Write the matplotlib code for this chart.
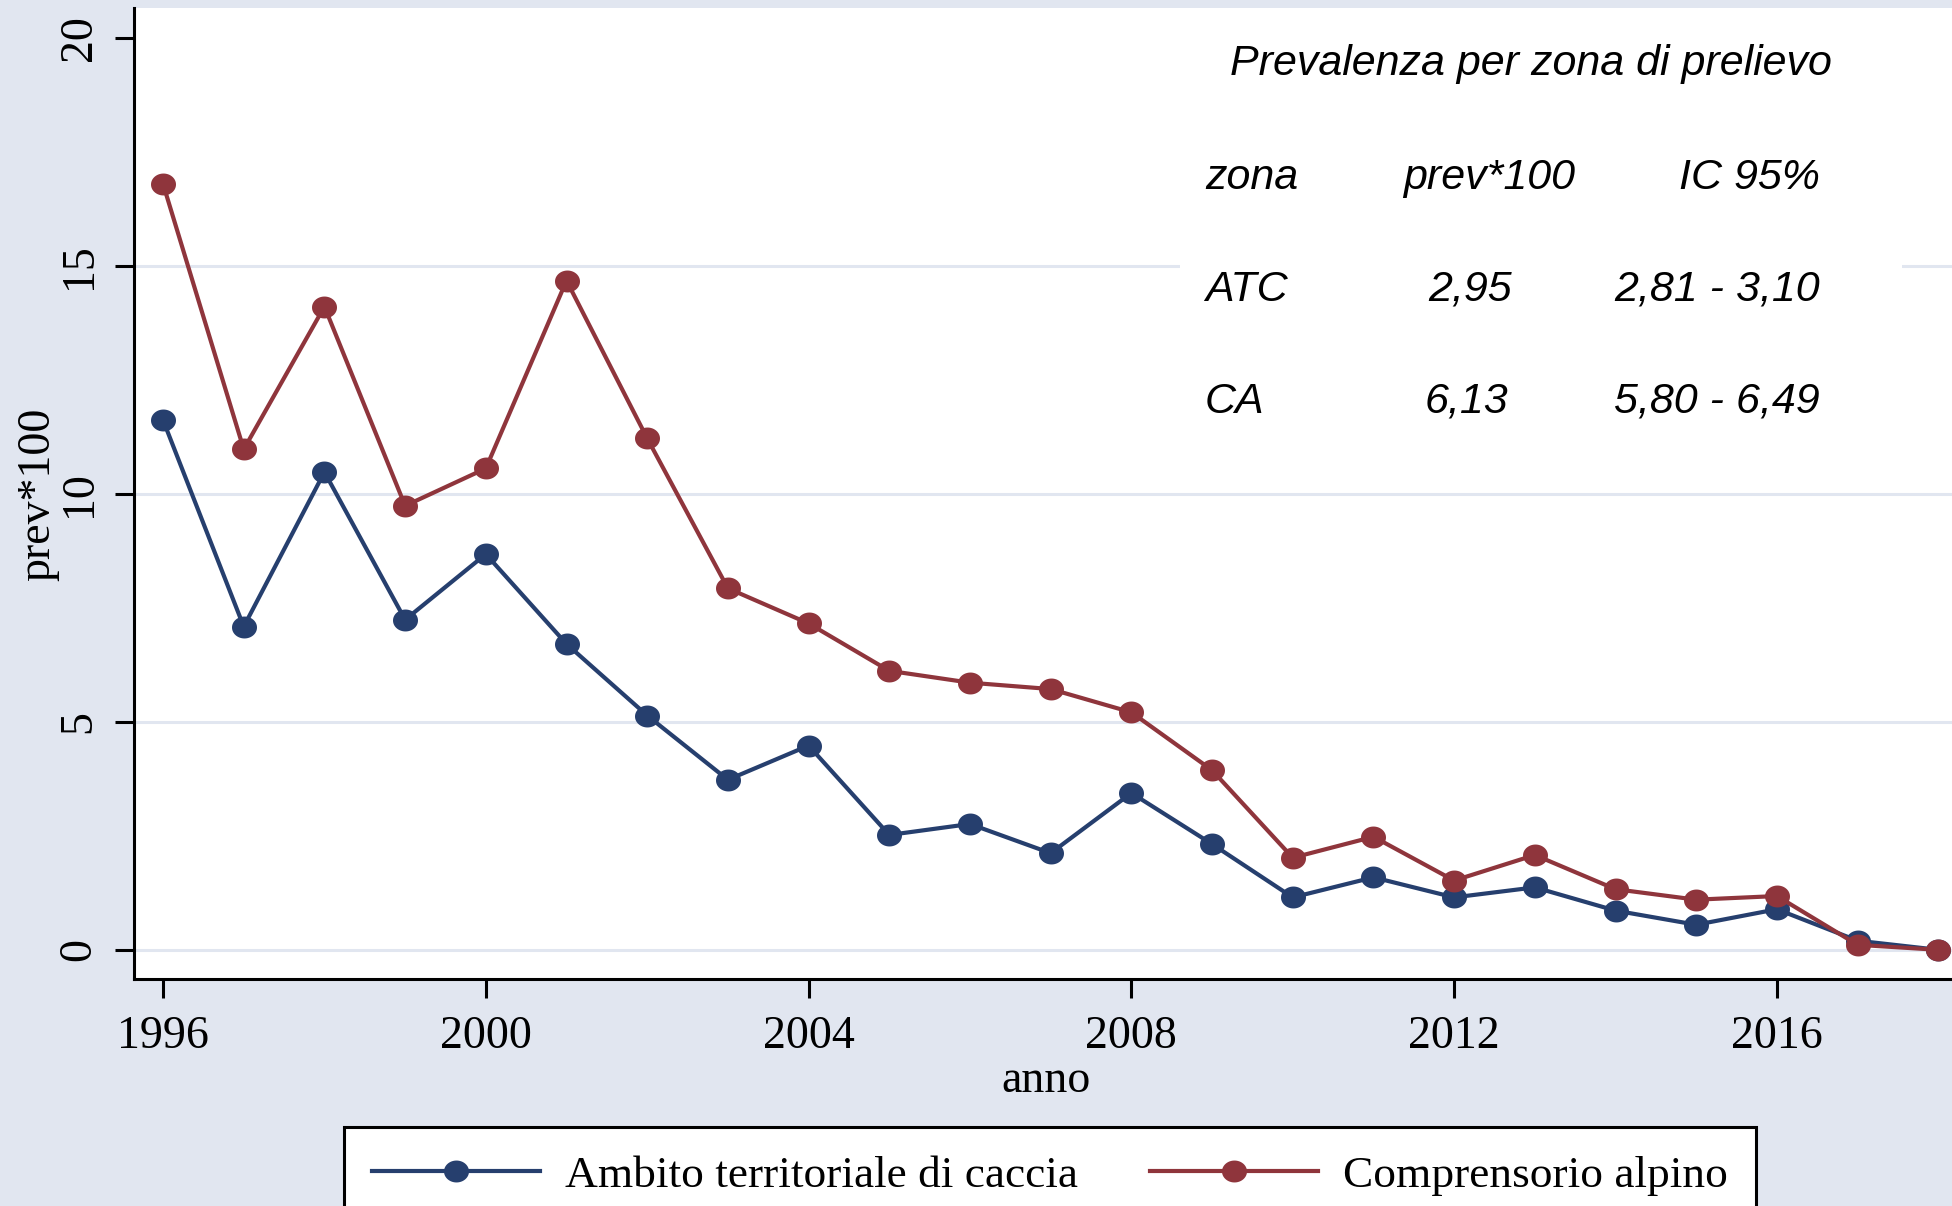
import numpy as np
import matplotlib
matplotlib.use("Agg")
import matplotlib.pyplot as plt
from matplotlib.path import Path
from matplotlib.patches import Rectangle

years = list(range(1996, 2019))
atc = [11.62, 7.09, 10.48, 7.24, 8.68, 6.71, 5.14, 3.73, 4.48, 2.52, 2.76, 2.12,
       3.44, 2.32, 1.15, 1.59, 1.15, 1.37, 0.86, 0.55, 0.89, 0.20, 0.0]
ca = [16.80, 10.98, 14.11, 9.74, 10.56, 14.68, 11.22, 7.93, 7.16, 6.12, 5.86, 5.72,
      5.21, 3.94, 2.02, 2.48, 1.52, 2.08, 1.33, 1.10, 1.18, 0.11, 0.0]
series_labels = ["Ambito territoriale di caccia", "Comprensorio alpino"]
x_ticks = [1996, 2000, 2004, 2008, 2012, 2016]
y_ticks = [0, 5, 10, 15, 20]
grid_vals = [0, 5, 10, 15]
table_title = "Prevalenza per zona di prelievo"
table_header = ["zona", "prev*100", "IC 95%"]
table_rows = [["ATC", "2,95", "2,81 - 3,10"], ["CA", "6,13", "5,80 - 6,49"]]

BG = "#E1E6F0"
BLUE = "#263F6E"
RED = "#8F353C"
W, H = 1952, 1206

fig = plt.figure(figsize=(W / 100, H / 100), dpi=100, facecolor=BG)
ax = fig.add_axes([134 / W, 1 - 979 / H, 1 - 134 / W, (979 - 8) / H])
ax.set_facecolor("white")

th = np.linspace(0, 2 * np.pi, 80)
ell = Path(np.column_stack([1.14 * np.cos(th), np.sin(th)]), closed=True)

for v in grid_vals:
    ax.axhline(v, color=BG, lw=2.2, zorder=1)

ax.plot(years, atc, color=BLUE, lw=3, marker=ell, ms=18, mew=0, zorder=3,
        label=series_labels[0])
ax.plot(years, ca, color=RED, lw=3, marker=ell, ms=18, mew=0, zorder=4,
        label=series_labels[1])

ax.set_xlim(1995.64, 2018.17)
ax.set_ylim(-0.64, 20.66)

for s in ["top", "right"]:
    ax.spines[s].set_visible(False)
for s in ["left", "bottom"]:
    ax.spines[s].set_linewidth(2.2)
    ax.spines[s].set_color("black")

serif = ["Liberation Serif", "DejaVu Serif"]
ax.set_xticks(x_ticks)
ax.set_yticks(y_ticks)
ax.set_xticklabels([str(t) for t in x_ticks], family=serif, fontsize=33)
ax.set_yticklabels([str(t) for t in y_ticks], family=serif, fontsize=33,
                   rotation=90, va="center")
ax.tick_params(axis="both", length=14, width=2.2, color="black")
ax.tick_params(axis="x", pad=12)
ax.tick_params(axis="y", pad=10)

fig.text(1046 / W, 1 - 1081 / H, "anno", family=serif, fontsize=33,
         ha="center", va="center")
fig.text(38 / W, 1 - 494 / H, "prev*100", family=serif, fontsize=33,
         ha="center", va="center", rotation=90)

# white box behind annotation
ax.add_patch(Rectangle((1180 / W, 1 - 440 / H), (1902 - 1180) / W, (440 - 40) / H,
                       transform=fig.transFigure, facecolor="white",
                       edgecolor="none", zorder=2))

sans = dict(family=["Liberation Sans", "DejaVu Sans"], style="italic", fontsize=31)
fig.text(1230 / W, 1 - 64 / H, table_title, ha="left", va="center", **sans)
row_y = [178, 290, 402]
col_left = 1205 / W
col_mid = [1489, 1470, 1466]
col_right = 1820 / W
rows = [table_header] + table_rows
for i, r in enumerate(rows):
    yy = 1 - row_y[i] / H
    fig.text(col_left, yy, r[0], ha="left", va="center", **sans)
    fig.text(col_mid[i] / W, yy, r[1], ha="center", va="center", **sans)
    fig.text(col_right, yy, r[2], ha="right", va="center", **sans)

leg = fig.legend(loc="upper center", bbox_to_anchor=(1050 / W, 1 - 1127 / H),
                 ncol=2, frameon=True, fancybox=False, edgecolor="black",
                 prop={"family": serif, "size": 32.7}, handlelength=3.7,
                 handletextpad=0.55, columnspacing=1.6, borderpad=0.62,
                 borderaxespad=0)
leg.get_frame().set_linewidth(2.2)
leg.get_frame().set_facecolor("white")
leg.get_frame().set_alpha(1.0)

fig.savefig("out.png", dpi=100, facecolor=BG)
